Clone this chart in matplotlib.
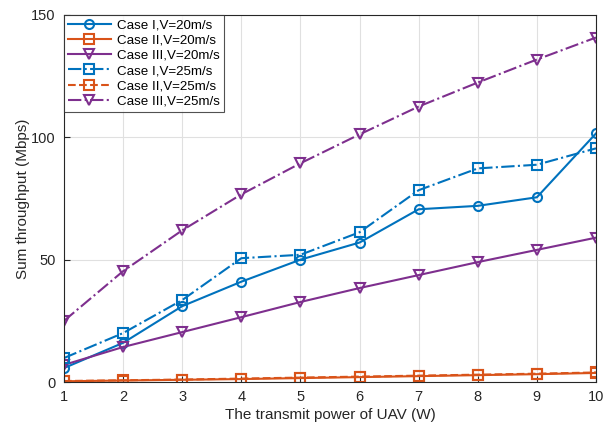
import matplotlib
matplotlib.use("Agg")
import matplotlib.pyplot as plt

x = [1, 2, 3, 4, 5, 6, 7, 8, 9, 10]
case1_v20 = [5.7, 16, 31, 41, 50, 57, 70.6, 72, 75.5, 101.6]
case2_v20 = [0.3, 0.6, 0.9, 1.2, 1.6, 2.0, 2.4, 2.8, 3.2, 3.7]
case3_v20 = [7, 14.3, 20.4, 26.5, 32.7, 38.4, 43.7, 49, 54, 59]
case1_v25 = [9.8, 20, 33.5, 50.6, 52, 61.2, 78.4, 87.3, 88.8, 95.5]
case2_v25 = [0.4, 0.7, 1.0, 1.4, 1.8, 2.2, 2.6, 3.0, 3.4, 3.9]
case3_v25 = [25, 45.3, 62, 76.7, 89.4, 101.2, 112.6, 122.4, 131.8, 140.8]
labels = ["Case I,V=20m/s", "Case II,V=20m/s", "Case III,V=20m/s",
          "Case I,V=25m/s", "Case II,V=25m/s", "Case III,V=25m/s"]

plt.rcParams['font.family'] = ['Liberation Sans', 'DejaVu Sans']
blue, orange, purple = '#0072BD', '#D95319', '#7E2F8E'

fig = plt.figure(figsize=(6.11, 4.29), dpi=100)
ax = fig.add_axes([64/611, 1-382/429, (596-64)/611, (382-15)/429])

kw = dict(markerfacecolor='none', markersize=6.5, markeredgewidth=1.5, linewidth=1.5)
ax.plot(x, case1_v20, '-', color=blue, marker='o', label=labels[0], **kw)
ax.plot(x, case2_v20, '-', color=orange, marker='s', label=labels[1], **kw)
ax.plot(x, case3_v20, '-', color=purple, marker='v', label=labels[2], **kw)
ax.plot(x, case1_v25, '-.', color=blue, marker='s', label=labels[3], **kw)
ax.plot(x, case2_v25, '--', color=orange, marker='s', label=labels[4], **kw)
ax.plot(x, case3_v25, '-.', color=purple, marker='v', label=labels[5], **kw)

ax.set_xlim(1, 10)
ax.set_ylim(0, 150)
ax.set_xticks(x)
ax.set_yticks([0, 50, 100, 150])
ax.grid(True, color='#e0e0e0', linewidth=0.8)
ax.set_axisbelow(True)
for s in ax.spines.values():
    s.set_color('#262626')
    s.set_linewidth(0.8)
ax.tick_params(direction='in', labelsize=10.5, colors='#262626', length=4, pad=6)
ax.set_xlabel('The transmit power of UAV (W)', fontsize=11, color='#262626', labelpad=3)
ax.set_ylabel('Sum throughput (Mbps)', fontsize=11, color='#262626', labelpad=1)
leg = ax.legend(loc='upper left', fontsize=9.6, frameon=True, fancybox=False,
                edgecolor='#262626', borderaxespad=0.0, handlelength=3.2,
                labelspacing=0.22, borderpad=0.3, handletextpad=0.5)
leg.get_frame().set_linewidth(0.8)
fig.savefig('out.png', dpi=100)
